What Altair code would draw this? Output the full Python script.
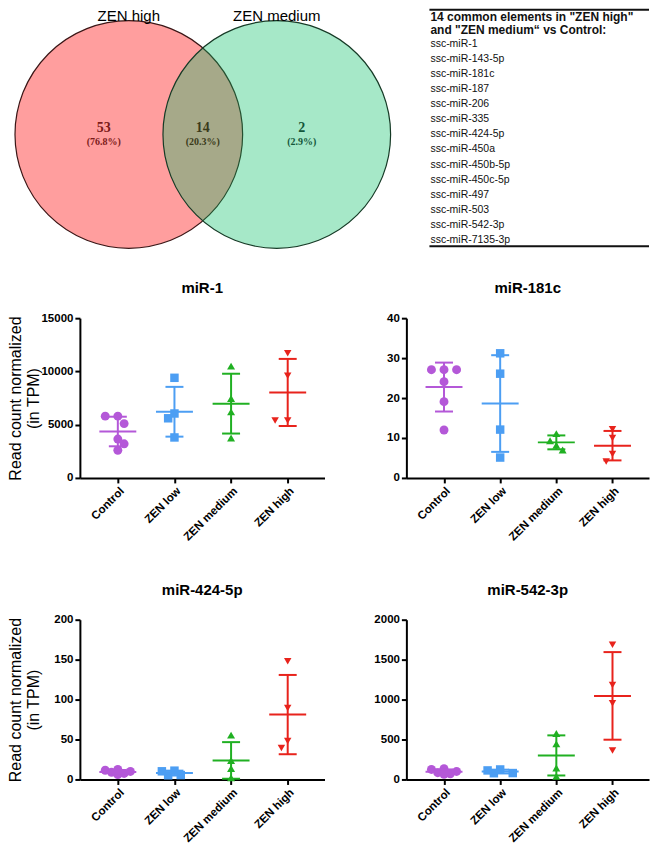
import math
import altair as alt
import pandas as pd

# ---------------- data ----------------
venn_sets = ["ZEN high", "ZEN medium"]
venn_regions = ["ZEN high only", "both", "ZEN medium only"]
venn_counts = [53, 14, 2]

list_header = ['14 common elements in "ZEN high"', 'and "ZEN medium\u201c vs Control:']
common_mirnas = ["ssc-miR-1", "ssc-miR-143-5p", "ssc-miR-181c", "ssc-miR-187",
                 "ssc-miR-206", "ssc-miR-335", "ssc-miR-424-5p", "ssc-miR-450a",
                 "ssc-miR-450b-5p", "ssc-miR-450c-5p", "ssc-miR-497", "ssc-miR-503",
                 "ssc-miR-542-3p", "ssc-miR-7135-3p"]

groups = ["Control", "ZEN low", "ZEN medium", "ZEN high"]
panel_titles = ["miR-1", "miR-181c", "miR-424-5p", "miR-542-3p"]
y_title = ["Read count normalized", "(in TPM)"]

mir1_control = [5800, 5800, 5100, 3650, 3200, 2600]
mir1_low = [9400, 6050, 5600, 3800]
mir1_medium = [10500, 7450, 6200, 3750]
mir1_high = [11700, 9600, 5400, 5400]
mir1_ticks = [0, 5000, 10000, 15000]

mir181c_control = [27.1, 27.1, 27.1, 24.1, 19.1, 12.0]
mir181c_low = [31.2, 26.1, 12.1, 5.1]
mir181c_medium = [11.1, 9.3, 8.2, 7.0]
mir181c_high = [12.2, 10.0, 6.0, 4.1]
mir181c_ticks = [0, 10, 20, 30, 40]

mir424_control = [12.5, 11.5, 10, 9, 7.5, 6]
mir424_low = [11, 10.2, 5.5, 5.2]
mir424_medium = [55.5, 23.8, 13.8, 2.1]
mir424_high = [148, 89.5, 48, 39.3]
mir424_ticks = [0, 50, 100, 150, 200]

mir542_control = [135, 125, 100, 85, 70, 65]
mir542_low = [125, 113, 80, 78]
mir542_medium = [575, 445, 144, 39]
mir542_high = [1685, 1183, 953, 363]
mir542_ticks = [0, 500, 1000, 1500, 2000]

# ---------------- style / layout ----------------
FONT = "Liberation Sans"
SERIF = "Liberation Serif"
group_colors = ["#B458D8", "#4C9EF3", "#20B022", "#E8231C"]
group_shapes = ["circle", "square", "triangle-up", "triangle-down"]
group_sizes = [80, 56, 100, 100]
region_text_colors = ["#7B1A1A", "#3A3A1A", "#14573A"]

PW_L, PW_R, PH = 245, 243, 160
TOP_H = 168
XDOM = [-0.67, 3.65]
MARKER_D = 9.0


def swarm(values, px_per_unit, d=MARKER_D, kmax=2):
    """symmetric beeswarm: horizontal pixel offsets so markers overlap as little as possible"""
    step = 0.7 * d
    thr = 0.85 * d
    order = sorted(range(len(values)), key=lambda i: -values[i])
    placed = []
    offs = [0.0] * len(values)

    def min_dist(c, y):
        if not placed:
            return 1e9
        return min(math.hypot(c - px, y - py) for px, py in placed)

    for i in order:
        y = values[i] * px_per_unit
        mean_x = sum(p[0] for p in placed) / len(placed) if placed else 0.0
        chosen = None
        for k in range(kmax + 1):
            cands = [0.0] if k == 0 else [k * step, -k * step]
            free = [c for c in cands if min_dist(c, y) >= thr]
            if free:
                if len(free) == 2:
                    chosen = k * step if mean_x < 0 else -k * step
                else:
                    chosen = free[0]
                break
        if chosen is None:
            allc = [0.0] + [s * k * step for k in range(1, kmax + 1) for s in (1, -1)]
            chosen = max(allc, key=lambda c: min_dist(c, y))
        offs[i] = chosen
        placed.append((chosen, y))
    return offs


def panel(title, series, ticks, width, show_title):
    ymax = ticks[-1]
    step_px = width / (XDOM[1] - XDOM[0])
    rows = []
    for gi, (g, vals) in enumerate(zip(groups, series)):
        offs = swarm(vals, PH / ymax)
        for v, o in zip(vals, offs):
            rows.append({"group": g, "idx": gi, "value": v, "xpos": gi + o / step_px})
    df = pd.DataFrame(rows)

    xs = alt.Scale(domain=XDOM, nice=False, zero=False)
    ys = alt.Scale(domain=[0, ymax], nice=False)
    label_expr = "[" + ",".join("'%s'" % g for g in groups) + "][datum.value]"
    xaxis = alt.Axis(values=[0, 1, 2, 3], labelExpr=label_expr, title=None, grid=False,
                     labelAngle=-45, labelAlign="right", labelBaseline="top",
                     labelPadding=2, labelFlush=False, labelOverlap=False)
    if show_title:
        yaxis = alt.Axis(values=ticks, format="d", grid=False, title=y_title,
                         titlePadding=0, titleLineHeight=18, minExtent=38, maxExtent=38,
                         labelPadding=2, labelFlush=False, labelOverlap=False)
    else:
        yaxis = alt.Axis(values=ticks, format="d", grid=False, title=None,
                         labelPadding=2, labelFlush=False, labelOverlap=False)
    color = alt.Color("group:N", scale=alt.Scale(domain=groups, range=group_colors), legend=None)

    base = alt.Chart(df)
    pts = base.mark_point(filled=True, opacity=1).encode(
        x=alt.X("xpos:Q", scale=xs, axis=xaxis),
        y=alt.Y("value:Q", scale=ys, axis=yaxis),
        color=color,
        shape=alt.Shape("group:N", scale=alt.Scale(domain=groups, range=group_shapes), legend=None),
        size=alt.Size("group:N", scale=alt.Scale(domain=groups, range=group_sizes), legend=None),
    )
    stats = base.transform_aggregate(
        mean="mean(value)", sd="stdev(value)", groupby=["group", "idx"]
    ).transform_calculate(lo="datum.mean - datum.sd", hi="datum.mean + datum.sd")
    mean_t = stats.mark_tick(orient="horizontal", size=37, thickness=2, opacity=1).encode(
        x=alt.X("idx:Q", scale=xs, axis=xaxis), y=alt.Y("mean:Q", scale=ys, axis=yaxis), color=color)
    lo_t = stats.mark_tick(orient="horizontal", size=18, thickness=2, opacity=1).encode(
        x=alt.X("idx:Q", scale=xs, axis=xaxis), y=alt.Y("lo:Q", scale=ys, axis=yaxis), color=color)
    hi_t = stats.mark_tick(orient="horizontal", size=18, thickness=2, opacity=1).encode(
        x=alt.X("idx:Q", scale=xs, axis=xaxis), y=alt.Y("hi:Q", scale=ys, axis=yaxis), color=color)
    rule = stats.mark_rule(strokeWidth=2).encode(
        x=alt.X("idx:Q", scale=xs, axis=xaxis), y=alt.Y("lo:Q", scale=ys, axis=yaxis),
        y2="hi:Q", color=color)
    return alt.layer(pts, rule, mean_t, lo_t, hi_t).properties(
        width=width, height=PH, title=alt.Title(title, offset=16))


# ---------------- Venn (drawn in the first grid cell, overflowing it) ----------------
PPU = 114.0          # pixels per unit radius
R = 1.0
SEP = 1.30           # distance between the two centres, in radii
VENN_W = PW_L
LEFT_CX_PX, CY_PX = 49, 126
cx = [-SEP / 2, SEP / 2]
cy = 0.0
x0 = cx[0] - LEFT_CX_PX / PPU
vxs = alt.Scale(domain=[x0, x0 + VENN_W / PPU], nice=False, zero=False)
ytop = cy + CY_PX / PPU
vys = alt.Scale(domain=[ytop - TOP_H / PPU, ytop], nice=False, zero=False)
R_PX = R * PPU
TAU = 2 * math.pi

c_left = pd.DataFrame({"x": [cx[0]], "y": [cy]})
c_right = pd.DataFrame({"x": [cx[1]], "y": [cy]})
left_circ = alt.Chart(c_left).mark_arc(
    radius=R_PX, theta=0, theta2=TAU, fill="#FF9E9E", opacity=1,
    stroke="#3a1616", strokeWidth=1.2).encode(
    x=alt.X("x:Q", scale=vxs, axis=None), y=alt.Y("y:Q", scale=vys, axis=None))
right_circ = alt.Chart(c_right).mark_arc(
    radius=R_PX, theta=0, theta2=TAU, fill="#00BD62", opacity=1,
    fillOpacity=0.35, stroke="#163a26", strokeWidth=1.2, strokeOpacity=1).encode(
    x=alt.X("x:Q", scale=vxs, axis=None), y=alt.Y("y:Q", scale=vys, axis=None))

set_lab = pd.DataFrame({"x": cx, "y": [ytop - 12 / PPU] * 2, "name": venn_sets})
set_text = alt.Chart(set_lab).mark_text(
    font=FONT, fontSize=15, baseline="alphabetic", align="center", color="black").encode(
    x=alt.X("x:Q", scale=vxs, axis=None), y=alt.Y("y:Q", scale=vys, axis=None), text="name:N")

LABEL_SHIFT = 0.22
total = sum(venn_counts)
reg = pd.DataFrame({
    "x": [cx[0] - LABEL_SHIFT, (cx[0] + cx[1]) / 2, cx[1] + LABEL_SHIFT],
    "y": [cy] * 3,
    "count": [str(c) for c in venn_counts],
    "pct": ["(%.1f%%)" % (100 * c / total) for c in venn_counts],
    "region": venn_regions,
})
reg_color = alt.Color("region:N", scale=alt.Scale(domain=venn_regions, range=region_text_colors), legend=None)
num_text = alt.Chart(reg).mark_text(
    font=SERIF, fontSize=14, fontWeight="bold", baseline="alphabetic", align="center", dy=-2).encode(
    x=alt.X("x:Q", scale=vxs, axis=None), y=alt.Y("y:Q", scale=vys, axis=None), text="count:N", color=reg_color)
pct_text = alt.Chart(reg).mark_text(
    font=SERIF, fontSize=10, fontWeight="bold", baseline="top", align="center", dy=3).encode(
    x=alt.X("x:Q", scale=vxs, axis=None), y=alt.Y("y:Q", scale=vys, axis=None), text="pct:N", color=reg_color)

venn = alt.layer(left_circ, right_circ, set_text, num_text, pct_text).properties(
    width=VENN_W, height=TOP_H)

# ---------------- list box (second grid cell, overflowing it) ----------------
ROW_PX = 15.15
row_top = -2.31
lxs = alt.Scale(domain=[-0.105, 1], nice=False, zero=False)
lys = alt.Scale(domain=[row_top, row_top + TOP_H / ROW_PX], nice=False, zero=False, reverse=True)
items = pd.DataFrame({"row": list(range(len(common_mirnas))), "x": 0, "t": common_mirnas})
head = pd.DataFrame({"row": [-1.78, -0.92], "x": 0, "t": list_header})
rules = pd.DataFrame({"row": [-2.24, 13.4], "x": 0, "x2": 1})
item_text = alt.Chart(items).mark_text(
    font=FONT, fontSize=10.5, align="left", baseline="middle", dx=1, color="#111").encode(
    x=alt.X("x:Q", scale=lxs, axis=None), y=alt.Y("row:Q", scale=lys, axis=None), text="t:N")
head_text = alt.Chart(head).mark_text(
    font=FONT, fontSize=12, fontWeight="bold", align="left", baseline="middle", dx=1, color="#111").encode(
    x=alt.X("x:Q", scale=lxs, axis=None), y=alt.Y("row:Q", scale=lys, axis=None), text="t:N")
rule_marks = alt.Chart(rules).mark_rule(strokeWidth=2, color="#111").encode(
    x=alt.X("x:Q", scale=lxs, axis=None), x2="x2:Q", y=alt.Y("row:Q", scale=lys, axis=None))
list_box = alt.layer(rule_marks, head_text, item_text).properties(width=PW_R, height=TOP_H)

# ---------------- scatter panels ----------------
p1 = panel(panel_titles[0], [mir1_control, mir1_low, mir1_medium, mir1_high], mir1_ticks, PW_L, True)
p2 = panel(panel_titles[1], [mir181c_control, mir181c_low, mir181c_medium, mir181c_high], mir181c_ticks, PW_R, False)
p3 = panel(panel_titles[2], [mir424_control, mir424_low, mir424_medium, mir424_high], mir424_ticks, PW_L, True)
p4 = panel(panel_titles[3], [mir542_control, mir542_low, mir542_medium, mir542_high], mir542_ticks, PW_R, False)

chart = alt.concat(
    venn, list_box, p1, p2, p3, p4, columns=2,
    spacing={"row": 142, "column": 82},
    align="each",
    bounds="flush",
).resolve_scale(
    color="independent", shape="independent", size="independent"
).properties(
    padding=0, background="white"
).configure_view(stroke=None).configure_axis(
    domainColor="black", domainWidth=2, tickColor="black", tickWidth=2, tickSize=5,
    labelColor="black", labelFont=FONT, labelFontSize=11.5, labelFontWeight="bold",
    titleFont=FONT, titleFontSize=16, titleFontWeight="normal", titleColor="black", grid=False
).configure_title(font=FONT, fontSize=15, fontWeight="bold", color="black", anchor="middle")

chart.save("out.html", embed_options={"renderer": "svg", "actions": False})
